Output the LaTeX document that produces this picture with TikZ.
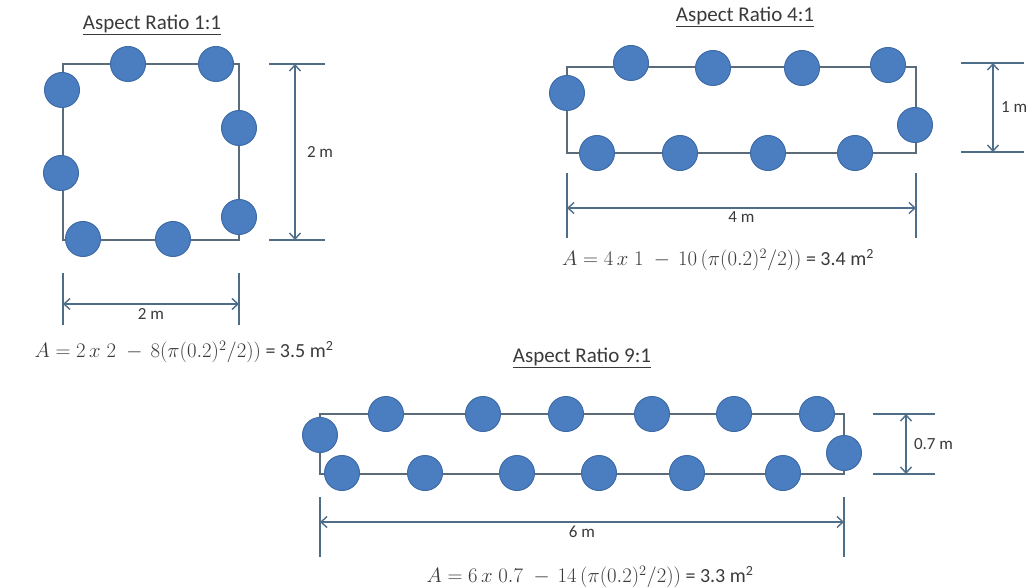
\documentclass[tikz,border=0pt]{standalone}
\usepackage[no-math]{fontspec}
\setmainfont{Carlito}
\usetikzlibrary{arrows.meta}
\definecolor{discblue}{HTML}{4A7EC0}
\definecolor{discedge}{HTML}{3E6BA8}
\definecolor{framegray}{HTML}{5B6B7A}
\definecolor{dimblue}{HTML}{4E6D89}
\definecolor{textgray}{HTML}{3A3A3A}

\begin{document}
\begin{tikzpicture}[x=1pt, y=-1pt,
    disc/.style={circle, draw=discedge, fill=discblue, line width=1pt, minimum size=35pt, inner sep=0pt},
    frame/.style={draw=framegray, line width=1.6pt},
    dim/.style={{Straight Barb[length=6pt,width=11pt]}-{Straight Barb[length=6pt,width=11pt]}, draw=dimblue, line width=1.4pt},
    ext/.style={draw=dimblue, line width=1.4pt},
    title/.style={font=\fontsize{21}{24}\selectfont, text=textgray},
    dimlabel/.style={font=\fontsize{17}{20}\selectfont, text=textgray},
    formula/.style={font=\fontsize{20}{24}\selectfont, text=textgray, inner sep=0pt},
]
\useasboundingbox (0,0) rectangle (1033,588);

% aspect ratio 1:1
\node[title] (sq-title) at (152,25) {\underline{Aspect Ratio 1:1}};
\coordinate (sq-nw) at (63,64);
\coordinate (sq-se) at (239,240);
\draw[frame] (sq-nw) rectangle (sq-se);

\node[disc] (s1) at (128,64) {};
\node[disc] (s2) at (216,64) {};
\node[disc] (s3) at (239,128) {};
\node[disc] (s4) at (239,217) {};
\node[disc] (s5) at (173,239) {};
\node[disc] (s6) at (83,239) {};
\node[disc] (s7) at (61,173) {};
\node[disc] (s8) at (62,90) {};

\coordinate (sq-ht1) at (269,64);  \coordinate (sq-ht2) at (325,64);
\coordinate (sq-hb1) at (269,240); \coordinate (sq-hb2) at (325,240);
\coordinate (sq-vt) at (295,64);   \coordinate (sq-vb) at (295,240);
\draw[ext] (sq-ht1) -- (sq-ht2);
\draw[ext] (sq-hb1) -- (sq-hb2);
\draw[dim] (sq-vt) -- node[dimlabel, right=8pt] {2 m} (sq-vb);

\coordinate (sq-el1) at (63,273);  \coordinate (sq-el2) at (63,325);
\coordinate (sq-er1) at (239,273); \coordinate (sq-er2) at (239,325);
\coordinate (sq-wl) at (63,304);   \coordinate (sq-wr) at (239,304);
\draw[ext] (sq-el1) -- (sq-el2);
\draw[ext] (sq-er1) -- (sq-er2);
\draw[dim] (sq-wl) -- node[dimlabel, below=0pt] {2 m} (sq-wr);

\node[formula] (sq-area) at (184,352) {$A = 2\,x\;2\;-\,8(\pi(0.2)^2/2))$ = 3.5 m\textsuperscript{2}};

% aspect ratio 4:1
\node[title] (re-title) at (745,17) {\underline{Aspect Ratio 4:1}};
\coordinate (re-nw) at (567,67);
\coordinate (re-se) at (916,153);
\draw[frame] (re-nw) rectangle (re-se);

\node[disc] (r1) at (567,93) {};
\node[disc] (r2) at (631,63) {};
\node[disc] (r3) at (713,68) {};
\node[disc] (r4) at (802,68) {};
\node[disc] (r5) at (888,65) {};
\node[disc] (r6) at (915,125) {};
\node[disc] (r7) at (855,153) {};
\node[disc] (r8) at (768,153) {};
\node[disc] (r9) at (680,153) {};
\node[disc] (r10) at (597,153) {};

\coordinate (re-ht1) at (961,63);  \coordinate (re-ht2) at (1024,63);
\coordinate (re-hb1) at (961,152); \coordinate (re-hb2) at (1024,152);
\coordinate (re-vt) at (993,63);   \coordinate (re-vb) at (993,152);
\draw[ext] (re-ht1) -- (re-ht2);
\draw[ext] (re-hb1) -- (re-hb2);
\draw[dim] (re-vt) -- node[dimlabel, right=4pt] {1 m} (re-vb);

\coordinate (re-el1) at (567,173); \coordinate (re-el2) at (567,238);
\coordinate (re-er1) at (916,173); \coordinate (re-er2) at (916,238);
\coordinate (re-wl) at (567,208);  \coordinate (re-wr) at (916,208);
\draw[ext] (re-el1) -- (re-el2);
\draw[ext] (re-er1) -- (re-er2);
\draw[dim] (re-wl) -- node[dimlabel, below=0pt] {4 m} (re-wr);

\node[formula] (re-area) at (718,260) {$A = 4\,x\;1\;-\,10\,(\pi(0.2)^2/2))$ = 3.4 m\textsuperscript{2}};

% aspect ratio 9:1
\node[title] (ln-title) at (582,358) {\underline{Aspect Ratio 9:1}};
\coordinate (ln-nw) at (320,414);
\coordinate (ln-se) at (844,474);
\draw[frame] (ln-nw) rectangle (ln-se);

\node[disc] (b1) at (320,435) {};
\node[disc] (b2) at (386,414) {};
\node[disc] (b3) at (483,414) {};
\node[disc] (b4) at (566,414) {};
\node[disc] (b5) at (652,414) {};
\node[disc] (b6) at (734,414) {};
\node[disc] (b7) at (817,414) {};
\node[disc] (b8) at (844,453) {};
\node[disc] (b9) at (783,473) {};
\node[disc] (b10) at (687,473) {};
\node[disc] (b11) at (599,473) {};
\node[disc] (b12) at (517,473) {};
\node[disc] (b13) at (425,473) {};
\node[disc] (b14) at (342,473) {};

\coordinate (ln-ht1) at (873,414); \coordinate (ln-ht2) at (935,414);
\coordinate (ln-hb1) at (873,474); \coordinate (ln-hb2) at (935,474);
\coordinate (ln-vt) at (906,414);  \coordinate (ln-vb) at (906,474);
\draw[ext] (ln-ht1) -- (ln-ht2);
\draw[ext] (ln-hb1) -- (ln-hb2);
\draw[dim] (ln-vt) -- node[dimlabel, right=4pt] {0.7 m} (ln-vb);

\coordinate (ln-el1) at (320,497); \coordinate (ln-el2) at (320,557);
\coordinate (ln-er1) at (844,497); \coordinate (ln-er2) at (844,557);
\coordinate (ln-wl) at (320,522);  \coordinate (ln-wr) at (844,522);
\draw[ext] (ln-el1) -- (ln-el2);
\draw[ext] (ln-er1) -- (ln-er2);
\draw[dim] (ln-wl) -- node[dimlabel, below=0pt] {6 m} (ln-wr);

\node[formula] (ln-area) at (590,577) {$A = 6\,x\;0.7\;-\,14\,(\pi(0.2)^2/2))$ = 3.3 m\textsuperscript{2}};

\end{tikzpicture}
\end{document}
